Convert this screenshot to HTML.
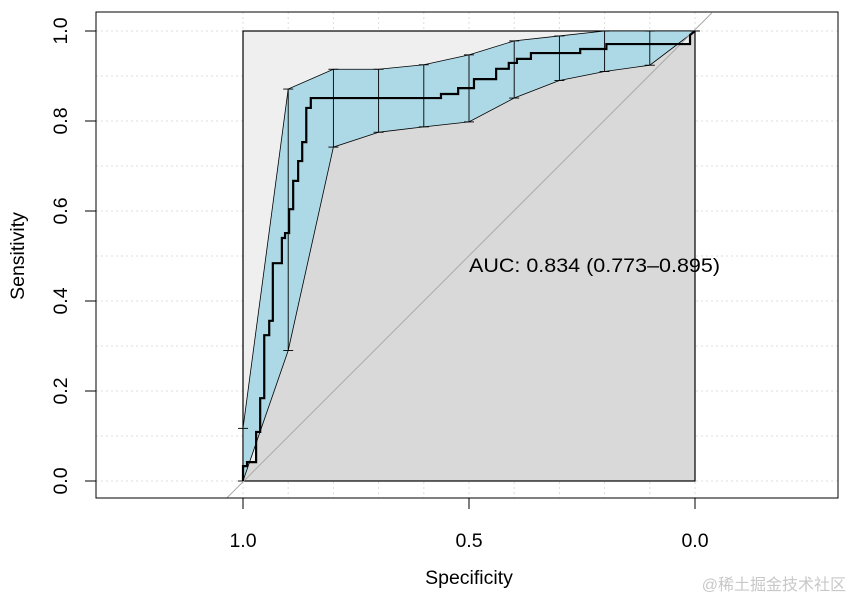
<!DOCTYPE html>
<html><head><meta charset="utf-8"><style>
html,body{margin:0;padding:0;background:#fff;width:853px;height:602px;overflow:hidden}
svg{display:block;font-family:"Liberation Sans",Arial,sans-serif}
</style></head><body>
<svg id="chart" width="853" height="602" viewBox="0 0 853 602">
<g id="grid"></g>
<g id="marks"></g>
<rect x="96" y="12" width="742" height="486" fill="none" stroke="#000" stroke-width="1"/>
<g id="axes"></g>
<text x="469" y="272" font-size="19.5" textLength="251" lengthAdjust="spacingAndGlyphs" fill="#000">AUC: 0.834 (0.773–0.895)</text>
<text x="469" y="584" font-size="19.5" text-anchor="middle" fill="#000">Specificity</text>
<text transform="translate(24,256) rotate(-90)" font-size="19.5" text-anchor="middle" fill="#000">Sensitivity</text>
<text x="846" y="590" font-size="16" text-anchor="end" fill="#c8c8c8" font-family="'Liberation Sans','Noto Sans CJK SC',sans-serif">@稀土掘金技术社区</text>
</svg>
<script>
const ciSpec = [1.0,0.9,0.8,0.7,0.6,0.5,0.4,0.3,0.2,0.1,0.0];
const ciLower = [0.0,0.29,0.742,0.775,0.787,0.798,0.851,0.89,0.91,0.924,1.0];
const ciUpper = [0.117,0.871,0.915,0.915,0.925,0.947,0.978,0.989,1.0,1.0,1.0];
const rocSpec = [1.0,1.0,0.991,0.991,0.971,0.971,0.962,0.962,0.953,0.953,0.942,0.942,0.934,0.934,0.914,0.914,0.907,0.907,0.898,0.898,0.889,0.889,0.878,0.878,0.869,0.869,0.86,0.86,0.85,0.85,0.562,0.562,0.524,0.524,0.489,0.489,0.44,0.44,0.412,0.412,0.394,0.394,0.363,0.363,0.254,0.254,0.196,0.196,0.011,0.011,0.0];
const rocSens = [0.0,0.033,0.033,0.042,0.042,0.109,0.109,0.184,0.184,0.324,0.324,0.356,0.356,0.484,0.484,0.54,0.54,0.551,0.551,0.604,0.604,0.667,0.667,0.711,0.711,0.753,0.753,0.829,0.829,0.851,0.851,0.86,0.86,0.873,0.873,0.893,0.893,0.916,0.916,0.929,0.929,0.938,0.938,0.951,0.951,0.96,0.96,0.971,0.971,0.991,1.0];
const xTicks = [1.0,0.5,0.0];
const xTickLabels = ["1.0","0.5","0.0"];
const yTicks = [0,0.2,0.4,0.6,0.8,1.0];
const yTickLabels = ["0.0","0.2","0.4","0.6","0.8","1.0"];

const NS="http://www.w3.org/2000/svg";
const X=s=>243+(1-s)*452;
const Y=v=>481-v*450;
function mk(tag,attrs,parent){const e=document.createElementNS(NS,tag);for(const k in attrs)e.setAttribute(k,attrs[k]);parent.appendChild(e);return e;}
const grid=document.getElementById('grid'),marks=document.getElementById('marks'),axes=document.getElementById('axes');
for(let i=0;i<=10;i++){
  const v=i/10;
  let g=mk('line',{x1:96,x2:838,y1:Y(v),y2:Y(v),stroke:'#dcdcdc','stroke-dasharray':'2,3'},grid);
  
  
  g=mk('line',{x1:X(v),x2:X(v),y1:12,y2:498,stroke:'#dcdcdc','stroke-dasharray':'2,3'},grid);
  
  
}
let r=mk('rect',{x:X(1),y:Y(1),width:X(0)-X(1),height:Y(0)-Y(1),fill:'#efefef'},marks);


let pts=rocSpec.map((s,i)=>X(s)+','+Y(rocSens[i]));
pts.push(X(0)+','+Y(0));
let a=mk('polygon',{points:pts.join(' '),fill:'#d9d9d9'},marks);


let sb=mk('rect',{x:X(1),y:Y(1),width:X(0)-X(1),height:Y(0)-Y(1),fill:'none',stroke:'#000','stroke-width':1.2},marks);


let up=ciSpec.map((s,i)=>X(s)+','+Y(ciUpper[i]));
let lo=ciSpec.map((s,i)=>X(s)+','+Y(ciLower[i])).reverse();
let band=mk('polygon',{points:up.concat(lo).join(' '),fill:'#add8e6',stroke:'#000','stroke-width':0.8},marks);


ciSpec.forEach((s,i)=>{
  const e=mk('g',{stroke:'#000','stroke-width':0.9},marks);
  
  
  mk('line',{x1:X(s),x2:X(s),y1:Y(ciLower[i]),y2:Y(ciUpper[i])},e);
  mk('line',{x1:X(s)-5,x2:X(s)+5,y1:Y(ciLower[i]),y2:Y(ciLower[i])},e);
  mk('line',{x1:X(s)-5,x2:X(s)+5,y1:Y(ciUpper[i]),y2:Y(ciUpper[i])},e);
});
let d=mk('line',{x1:X(1.035),y1:Y(-0.037),x2:X(-0.037),y2:Y(1.04),stroke:'#aaaaaa','stroke-width':1},marks);


let c=mk('polyline',{points:rocSpec.map((s,i)=>X(s)+','+Y(rocSens[i])).join(' '),fill:'none',stroke:'#000','stroke-width':2.2},marks);


xTicks.forEach((t,i)=>{
  const l=mk('line',{x1:X(t),x2:X(t),y1:498,y2:509,stroke:'#000'},axes);
  
  
  const tx=mk('text',{x:X(t),y:547,'font-size':19.5,'text-anchor':'middle'},axes);
  tx.textContent=xTickLabels[i];
  
  
});
yTicks.forEach((t,i)=>{
  const l=mk('line',{x1:85,x2:96,y1:Y(t),y2:Y(t),stroke:'#000'},axes);
  
  
  const tx=mk('text',{transform:`translate(67,${Y(t)}) rotate(-90)`,'font-size':19.5,'text-anchor':'middle'},axes);
  tx.textContent=yTickLabels[i];
  
  
});
</script>
</body></html>
